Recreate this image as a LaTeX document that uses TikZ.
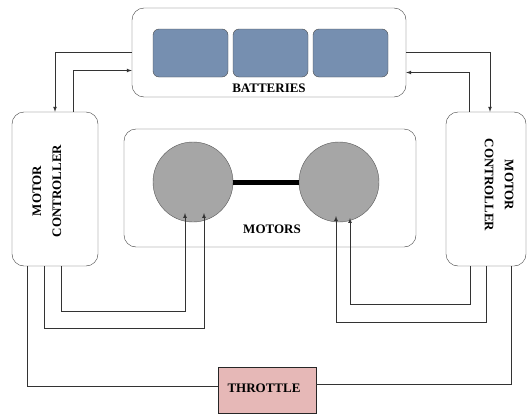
\documentclass[tikz,border=0pt]{standalone}
\usepackage{fontspec}
\setmainfont{Liberation Serif}
\usetikzlibrary{arrows.meta,positioning}

\definecolor{cellblue}{HTML}{768FB0}
\definecolor{motorgray}{HTML}{A6A6A6}
\definecolor{thrpink}{HTML}{E6B8B7}

\begin{document}
\begin{tikzpicture}[x=1pt, y=-1pt, thin]
		\useasboundingbox (0,0) rectangle (527,415);

		\tikzstyle{pack}=[rectangle, rounded corners=12pt, draw=black!75, fill=white, minimum width=274pt, minimum height=89pt]
		\tikzstyle{cell}=[rectangle, rounded corners=6pt, draw=black!70, fill=cellblue, minimum width=75pt, minimum height=48pt]
		\tikzstyle{ctrl}=[rectangle, rounded corners=12pt, draw=black!75, fill=white, minimum width=86pt, minimum height=154pt]
		\tikzstyle{motor}=[circle, draw=black!65, fill=motorgray, minimum size=80pt]
		\tikzstyle{thr}=[rectangle, draw=black!85, fill=thrpink, minimum width=98pt, minimum height=46pt]
		\tikzstyle{lbl}=[font=\bfseries\fontsize{13}{20}\selectfont, text=black, align=center, inner sep=0pt]
		\tikzstyle{wire}=[draw=black!80, line width=0.7pt]

		% batteries
		\node[pack] (batt) at (269,52.5) {};
		\node[cell] (c1) at (190.5,53) {};
		\node[cell] (c2) at (270.5,53) {};
		\node[cell] (c3) at (350.5,53) {};
		\node[lbl] (battlbl) at (269,88) {BATTERIES};

		% controllers
		\node[ctrl] (lctrl) at (55,189) {};
		\node[lbl, rotate=90] (lctrltxt) at (47,191) {MOTOR\\CONTROLLER};
		\node[ctrl, minimum width=80pt] (rctrl) at (486,189) {};
		\node[lbl, rotate=-90] (rctrltxt) at (499,185) {MOTOR\\CONTROLLER};

		% motors
		\node[ctrl, minimum width=292pt, minimum height=118pt] (motors) at (270,188) {};
		\node[motor] (m1) at (193,182) {};
		\node[motor] (m2) at (339,182) {};
		\draw[line width=5pt] (m1.east) -- (m2.west);
		\node[lbl] (motlbl) at (272,229) {MOTORS};

		% throttle
		\node[thr] (thr) at (267,390) {};
		\node[lbl] (thrlbl) at (264,388) {THROTTLE};

		\coordinate (a1) at ([shift={(-8,31)}]m1.center);
		\coordinate (a2) at ([shift={(11,31)}]m1.center);
		\coordinate (a3) at ([shift={(-3,34)}]m2.center);
		\coordinate (a4) at ([shift={(11,36)}]m2.center);

		% battery links
		\draw[wire, -latex] (batt.west) -| (lctrl.north);
		\draw[wire, -latex] ([xshift=18pt]lctrl.north) |- ([yshift=-18pt]batt.west);
		\draw[wire, -latex] (batt.east) -| ([xshift=4pt]rctrl.north);
		\draw[wire, -latex] ([xshift=-17pt]rctrl.north) |- ([yshift=-20pt]batt.east);

		% motor links
		\draw[wire, -latex] ([xshift=6pt]lctrl.south) -- ++(0,45) -| (a1);
		\draw[wire, -latex] ([xshift=-11pt]lctrl.south) -- ++(0,62) -| (a2);
		\draw[wire, -latex] ([xshift=-16pt]rctrl.south) -- ++(0,38) -| (a4);
		\draw[wire, -latex] (rctrl.south) -- ++(0,56) -| (a3);

		% throttle links
		\draw[wire] ([xshift=-28pt]lctrl.south) |- ([yshift=4pt]thr.west);
		\draw[wire] ([xshift=25pt]rctrl.south) |- ([yshift=6pt]thr.east);

\end{tikzpicture}
\end{document}
